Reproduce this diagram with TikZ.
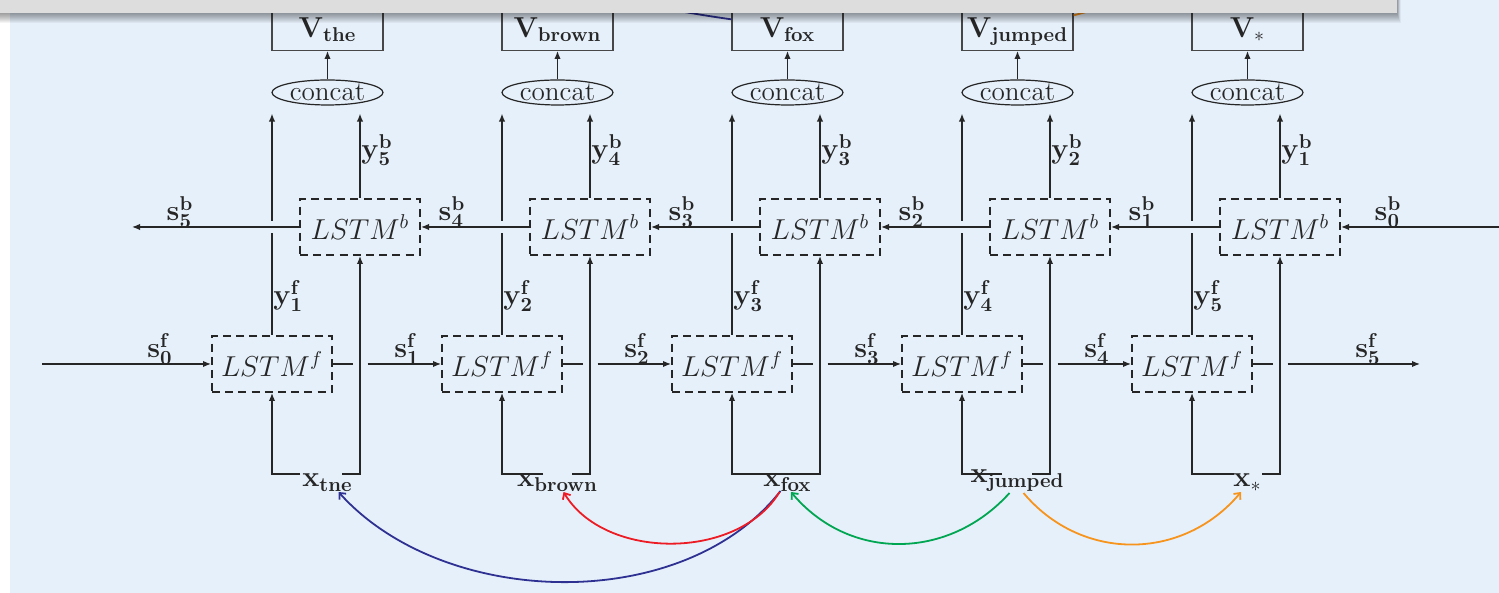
\documentclass[tikz,border=0pt]{standalone}
\usetikzlibrary{shapes.geometric,arrows.meta,calc}
\definecolor{bgblue}{RGB}{230,240,250}
\definecolor{bargrey}{RGB}{221,221,221}
\definecolor{cnavy}{RGB}{46,49,146}
\definecolor{cred}{RGB}{237,28,36}
\definecolor{cgreen}{RGB}{0,166,81}
\definecolor{corange}{RGB}{247,148,29}
\definecolor{ink}{RGB}{38,38,38}
\begin{document}
\begin{tikzpicture}[x=0.5pt,y=0.5pt,
  every node/.style={font=\fontsize{14.4}{17}\selectfont, text=ink},
  conn/.style={draw=ink, line width=0.65pt},
  arr/.style={conn, -{Latex[length=4pt,width=3.2pt]}},
  lstmbox/.style={draw=ink, dash pattern=on 4pt off 2.6pt, line width=1pt,
    minimum width=60pt, minimum height=28pt, inner sep=0pt},
  catnode/.style={ellipse, draw=ink, line width=0.6pt, minimum width=55.5pt,
    minimum height=12.5pt, inner sep=0pt, font=\fontsize{13.6}{16}\selectfont},
  vbox/.style={draw=ink!85, line width=0.65pt, minimum width=55.5pt,
    minimum height=20.5pt, inner sep=0pt, text height=10pt, text depth=2.5pt, anchor=south},
  lab/.style={inner sep=0.5pt},
  curv/.style={line width=0.9pt, -{Straight Barb[length=2.5pt,width=4.5pt]}},
]
\useasboundingbox (0,0) rectangle (1499,593);
\clip (0,0) rectangle (1499,593);
\fill[white] (0,0) rectangle (1499,593);
\fill[bgblue] (10,0) rectangle (1499,593);

\foreach \i/\vw/\xw/\yb/\xy/\gl/\gr in {
  0/{\mathbf{the}}/{\mathbf{tne}}/5/106/300/342,
  1/{\mathbf{brown}}/{\mathbf{brown}}/4/106/543/572,
  2/{\mathbf{fox}}/{\mathbf{fox}}/3/106/776/776,
  3/{\mathbf{jumped}}/{\mathbf{jumped}}/2/110/1002/1032,
  4/{*}/{*}/1/106/1234/1262}
{
  \pgfmathtruncatemacro\yf{\i+1}
  \node[lstmbox] (f\i) at ({272+230*\i},229) {$LSTM^f$};
  \node[lstmbox] (b\i) at ({360+230*\i},366) {$LSTM^b$};
  \node[catnode] (c\i) at ({327.5+230*\i},500.5) {concat};
  \node[vbox] (v\i) at ({327.5+230*\i},542) {$\mathbf{V}_{\vw}$};
  \node[anchor=base, inner sep=0pt] (x\i) at ({327.5+230*\i},\xy) {$\mathbf{x}_{\xw}$};
  \draw[arr] (c\i) -- (v\i);
  % forward output y^f, broken where it crosses the backward line
  \coordinate (yfa\i) at ($(f\i.north |- b\i.west)+(0,-6)$);
  \coordinate (yfb\i) at ($(f\i.north |- b\i.west)+(0,6)$);
  \draw[conn] (f\i.north) -- (yfa\i);
  \draw[arr] (yfb\i) -- ($(yfb\i |- c\i.south)+(0,-8)$);
  \draw[arr] (b\i.north) -- ($(b\i.north |- c\i.south)+(0,-8)$);
  \node[lab, anchor=west] at ($(f\i.north)+(0,39)$) {$\mathbf{y}^{\mathbf{f}}_{\mathbf{\yf}}$};
  \node[lab, anchor=west] at ($(b\i.north)+(0,48)$) {$\mathbf{y}^{\mathbf{b}}_{\mathbf{\yb}}$};
  % inputs
  \coordinate (gl\i) at (\gl,119);
  \coordinate (gr\i) at (\gr,119);
  \draw[arr] (gl\i) -| (f\i.south);
  \draw[arr] (gr\i) -| (b\i.south);
}

% forward chain
\coordinate (sf0) at (42,229);
\coordinate (sf5) at (1420,229);
\draw[arr] (sf0) -- (f0.west);
\foreach \i/\j in {0/1,1/2,2/3,3/4}{
  \draw[conn] (f\i.east) -- ($(f\i.east -| b\i.south)+(-7.5,0)$);
  \draw[arr] ($(f\i.east -| b\i.south)+(7.5,0)$) -- (f\j.west);
}
\draw[conn] (f4.east) -- ($(f4.east -| b4.south)+(-7.5,0)$);
\draw[arr] ($(f4.east -| b4.south)+(7.5,0)$) -- (sf5);
\foreach \px/\k in {160/0,407/1,637/2,867/3,1097/4,1368/5}
  \node[lab, anchor=south, inner sep=0pt] at (\px,228) {$\mathbf{s}^{\mathbf{f}}_{\mathbf{\k}}$};

% backward chain
\coordinate (sb5) at (132,366);
\coordinate (sb0) at (1499,366);
\draw[arr] (b0.west) -- (sb5);
\foreach \i/\j in {0/1,1/2,2/3,3/4}
  \draw[arr] (b\j.west) -- (b\i.east);
\draw[arr] (sb0) -- (b4.east);
\foreach \px/\k in {180/5,452/4,682/3,912/2,1142/1,1388/0}
  \node[lab, anchor=south, inner sep=0pt] at (\px,365) {$\mathbf{s}^{\mathbf{b}}_{\mathbf{\k}}$};

% dependency arcs
\draw[curv, cnavy] ($(x2.base)+(-7,-4)$) to[out=232, in=312, looseness=0.91] ($(x0.base)+(11,-5)$);
\draw[curv, cred] ($(x2.base)+(-8,-5)$) to[out=239, in=301, looseness=0.95] ($(x1.base)+(6,-5)$);
\draw[curv, cgreen] ($(x3.base)+(-8,-10)$) to[out=228, in=310, looseness=1.06] ($(x2.base)+(3.5,-5)$);
\draw[curv, corange] ($(x3.base)+(6,-10)$) to[out=310, in=230, looseness=1.06] ($(x4.base)+(-6.5,-5)$);

% arcs at the top, mostly hidden by the bar
\draw[line width=0.9pt, cnavy] ($(v2.west)+(0,10.5)$) to[out=172, in=20] (v0.north);
\draw[line width=0.9pt, corange] ($(v3.east)+(0,14.5)$) to[out=15, in=160] (v4.north);

% top bar with shadow
\foreach \k in {1,...,10}
  \fill[black, opacity=0.045] (0,{580-\k}) rectangle ({1397+0.35*\k},593);
\fill[bargrey] (0,580) rectangle (1397,593);
\end{tikzpicture}
\end{document}
